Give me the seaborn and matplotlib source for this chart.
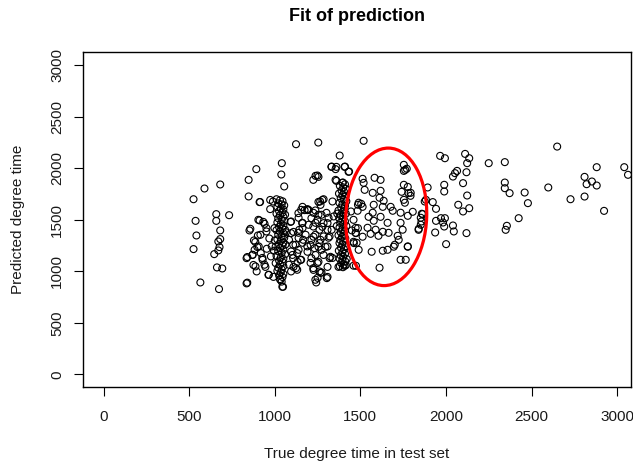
import matplotlib
matplotlib.use("Agg")
import matplotlib.pyplot as plt
from matplotlib.patches import Ellipse
import numpy as np
import pandas as pd
import seaborn as sns

# ---- data (true vs predicted degree time) ----
x_a = [525, 537, 542, 525, 565, 589, 681, 658, 658, 681, 681, 670, 677, 670, 646, 662, 693, 674, 733]
y_a = [1700, 1490, 1348, 1216, 892, 1804, 1843, 1555, 1490, 1397, 1313, 1290, 1235, 1203, 1167, 1038, 1028, 828, 1545]

x_b = [847, 892, 847, 911, 852, 835, 835, 911, 940, 951, 878, 901, 906, 882, 871, 918, 929, 887, 894, 940,
       965, 953, 977, 968, 982, 973, 989]
y_b = [1888, 1992, 1727, 1672, 1397, 1128, 883, 1494, 1461, 1387, 1300, 1348, 1242, 1209, 1161, 1177, 1112,
       1048, 999, 1064, 967, 1219, 1145, 1319, 1242, 1604, 1678]

x_c = [839, 1044, 914, 973, 857, 904, 933, 951, 839, 869, 886, 898, 916, 927, 875, 945, 963, 992, 1033, 1092,
       1109, 1121, 1103, 1133, 1109, 1139, 1162, 1174, 1191]
y_c = [890, 850, 1673, 1693, 1413, 1500, 1480, 1420, 1139, 1159, 1285, 1236, 1355, 1130, 1062, 1043, 965, 946,
       917, 1480, 1383, 1257, 1159, 1092, 1043, 1324, 1420, 1594, 1594]

col1_x = [1010, 1030, 1045, 1020, 1040, 1055, 1015, 1035, 1050, 1025, 1045, 1010, 1030, 1050, 1020, 1040, 1055,
          1015, 1035, 1050, 1025, 1045, 1010, 1030, 1050, 1020, 1040, 1055, 1015, 1035, 1050, 1025, 1045, 1005,
          1030, 1050, 1020, 1040, 1060, 1010, 1035, 1050, 1025, 1045, 1005, 1030, 1050, 1020, 1040, 1015, 1035,
          1050, 1025, 1045, 1030, 1040, 1038, 1041, 1055, 1048, 1000, 995, 998, 1060, 1065, 1062]
col1_y = [1700, 1690, 1680, 1660, 1650, 1640, 1625, 1610, 1600, 1585, 1570, 1560, 1545, 1530, 1515, 1500, 1490,
          1475, 1460, 1445, 1430, 1415, 1400, 1385, 1370, 1355, 1340, 1325, 1310, 1295, 1280, 1265, 1250, 1240,
          1225, 1210, 1195, 1180, 1165, 1150, 1135, 1120, 1105, 1090, 1080, 1065, 1050, 1035, 1020, 1005, 990,
          975, 960, 945, 925, 900, 1940, 2050, 1824, 850, 1300, 1200, 1420, 1550, 1380, 1260]

x_d = [1095, 1060, 1095, 1083, 1107, 1095, 1131, 1107, 1154, 1083, 1124, 1095, 1131, 1143, 1160, 1138, 1154,
       1190, 1124, 1166, 1190]
y_d = [1484, 1403, 1371, 1306, 1258, 1193, 1177, 1128, 1112, 1064, 1031, 999, 1015, 1403, 1468, 1565, 1597,
       1604, 2234, 1306, 1242]

x_e = [1254, 1249, 1225, 1265, 1285, 1237, 1273, 1214, 1249, 1285, 1225, 1261, 1237, 1285, 1214, 1261, 1232,
       1273, 1214, 1249, 1225, 1261, 1237, 1242, 1273, 1304, 1308, 1320, 1332, 1308, 1344, 1337, 1332, 1355, 1320]
y_e = [2250, 1930, 1888, 1678, 1700, 1591, 1549, 1516, 1500, 1468, 1435, 1403, 1355, 1339, 1306, 1274, 1225,
       1209, 1128, 1080, 1031, 999, 918, 892, 989, 934, 1242, 1339, 1403, 1468, 1533, 1678, 2017, 1992, 1128]

x_f = [1331, 1360, 1408, 1431, 1238, 1255, 1360, 1162, 1255, 1278, 1267, 1197, 1226, 1255, 1302, 1314, 1139,
       1162, 1197, 1238, 1278, 1308, 1139, 1180, 1226, 1267, 1314, 1162, 1209, 1255, 1296, 1139, 1191, 1238,
       1285, 1325, 1150, 1209, 1255, 1308, 1226, 1267, 1250, 1308, 1337, 1372, 1408, 1460, 1472, 1478, 1513,
       1460, 1490]
y_f = [2014, 2014, 2014, 1966, 1927, 1917, 1878, 1626, 1674, 1693, 1645, 1597, 1568, 1549, 1568, 1520, 1520,
       1471, 1452, 1471, 1432, 1403, 1374, 1355, 1336, 1306, 1326, 1277, 1257, 1238, 1238, 1209, 1190, 1159,
       1159, 1141, 1111, 1082, 1092, 1043, 1014, 985, 937, 946, 1130, 1043, 1053, 1500, 1422, 1277, 1336,
       1287, 1209]

col2_x = [1395, 1410, 1380, 1400, 1415, 1390, 1405, 1375, 1395, 1412, 1385, 1402, 1418, 1378, 1395, 1410, 1388,
          1405, 1372, 1395, 1415, 1385, 1400, 1376, 1395, 1410, 1382, 1400, 1418, 1378, 1395, 1410, 1385, 1402,
          1372, 1393, 1412, 1383, 1400, 1378, 1395, 1415, 1387, 1404, 1374, 1395, 1410, 1385, 1400, 1378, 1395,
          1412, 1388, 1402, 1380, 1398, 1415, 1420, 1365, 1362]
col2_y = [1860, 1845, 1830, 1815, 1800, 1785, 1770, 1755, 1740, 1725, 1710, 1695, 1680, 1665, 1650, 1635, 1620,
          1605, 1590, 1575, 1560, 1545, 1530, 1515, 1500, 1485, 1470, 1455, 1440, 1425, 1410, 1395, 1380, 1365,
          1350, 1335, 1320, 1305, 1290, 1275, 1260, 1245, 1230, 1215, 1200, 1185, 1170, 1155, 1140, 1125, 1110,
          1095, 1080, 1065, 1050, 1040, 1060, 1120, 1560, 1440]

x_g = [1474, 1462, 1474, 1486, 1450, 1445, 1486, 1505, 1379, 1410, 1434, 1398, 1355]
y_g = [1054, 1274, 1371, 1419, 1397, 1581, 1646, 1655, 2124, 2017, 1969, 1862, 1888]

x_h = [1519, 1754, 1771, 1754, 1513, 1583, 1618, 1519, 1525, 1618, 1572, 1754, 1777, 1741, 1794, 1612, 1636,
       1754, 1760, 1490, 1513, 1578, 1631, 1677, 1689, 1484, 1572, 1735, 1806, 1859, 1853, 1548, 1618, 1578,
       1777, 1659, 1735, 1853, 1542, 1589, 1631, 1747, 1841, 1472, 1560, 1606, 1665, 1718, 1724, 1701, 1695,
       1659, 1631, 1566, 1777, 1735, 1765, 1612, 1460, 1781, 1793, 1762]
y_h = [2267, 2034, 1996, 1975, 1898, 1908, 1888, 1859, 1791, 1782, 1762, 1840, 1820, 1772, 1762, 1714, 1685,
       1694, 1666, 1666, 1626, 1646, 1626, 1626, 1588, 1588, 1569, 1569, 1578, 1559, 1520, 1529, 1529, 1491,
       1539, 1471, 1471, 1452, 1423, 1404, 1384, 1404, 1413, 1374, 1364, 1345, 1374, 1345, 1306, 1258, 1239,
       1209, 1200, 1190, 1239, 1112, 1112, 1035, 1055, 1759, 1733, 1985]

x_i = [1883, 1876, 1893, 1840, 1857, 1864, 1777, 1923, 1942, 1942, 1971, 1983, 1994, 1990, 1937, 1966, 1994,
       1990, 1990, 2001, 2041, 2053, 2065, 2072, 2100, 2100, 2112, 2136, 2124, 2120, 2124, 2136, 2120, 2041, 2046]
y_i = [1694, 1678, 1814, 1403, 1484, 1555, 1242, 1672, 1607, 1490, 1516, 1474, 1516, 1435, 1377, 2121, 2098,
       1840, 1775, 1264, 1920, 1953, 1975, 1646, 1856, 1581, 2140, 2098, 2050, 1962, 1736, 1613, 1371, 1445, 1387]

x_j = [2250, 2344, 2344, 2344, 2372, 2356, 2349, 2425, 2460, 2479, 2598, 2650, 2728, 2810, 2822, 2853, 2881,
       2881, 2810, 2924, 3042, 3064]
y_j = [2050, 2060, 1862, 1807, 1759, 1442, 1403, 1516, 1765, 1662, 1814, 2211, 1700, 1917, 1846, 1872, 2011,
       1833, 1726, 1587, 2011, 1937]

x_ticks = [0, 500, 1000, 1500, 2000, 2500, 3000]
y_ticks = [0, 500, 1000, 1500, 2000, 2500, 3000]

title = "Fit of prediction"
x_label = "True degree time in test set"
y_label = "Predicted degree time"

true_time = x_a + x_b + x_c + col1_x + x_d + x_e + x_f + col2_x + x_g + x_h + x_i + x_j
pred_time = y_a + y_b + y_c + col1_y + y_d + y_e + y_f + col2_y + y_g + y_h + y_i + y_j
df = pd.DataFrame({"true": true_time, "pred": pred_time})

# ---- plotting ----
sns.set_theme(style="white")
plt.rcParams["font.family"] = ["Liberation Sans", "DejaVu Sans"]

fig = plt.figure(figsize=(6.33, 4.63), dpi=100)
ax = fig.add_axes([0.1308, 0.1641, 0.8662, 0.7229])

sns.scatterplot(data=df, x="true", y="pred", ax=ax, marker="o", s=25, legend=False)
coll = ax.collections[0]
coll.set_facecolor("none")
coll.set_edgecolor("black")
coll.set_linewidth(0.8)

ax.add_patch(Ellipse((1651, 1529), width=473, height=1335, angle=-1.2,
                     fill=False, edgecolor="#ff0000", linewidth=2.3))

ax.set_xlim(-122, 3082)
ax.set_ylim(-123, 3126)
ax.set_xticks(x_ticks)
ax.set_yticks(y_ticks)
ax.set_xticklabels([str(t) for t in x_ticks])
ax.set_yticklabels([str(t) for t in y_ticks], rotation=90, va="center")

for s in ax.spines.values():
    s.set_visible(True)
    s.set_color("black")
    s.set_linewidth(1.0)

ax.tick_params(axis="both", which="major", direction="out", length=6.5, width=0.8,
               color="black", labelsize=11, labelcolor="#1a1a1a", bottom=True, left=True)
ax.tick_params(axis="x", pad=10)
ax.tick_params(axis="y", pad=7)

ax.set_xlabel(x_label, fontsize=11, color="#1a1a1a")
ax.set_ylabel(y_label, fontsize=11, color="#1a1a1a")
ax.xaxis.set_label_coords(0.5, -0.200)
ax.xaxis.label.set_verticalalignment("center")
ax.yaxis.set_label_coords(-0.1182, 0.5)
ax.yaxis.label.set_verticalalignment("center")

ax.set_title(title, fontsize=13, fontweight="bold", y=1.1085, va="center", pad=0, color="black")

fig.savefig("out.png", dpi=100)
